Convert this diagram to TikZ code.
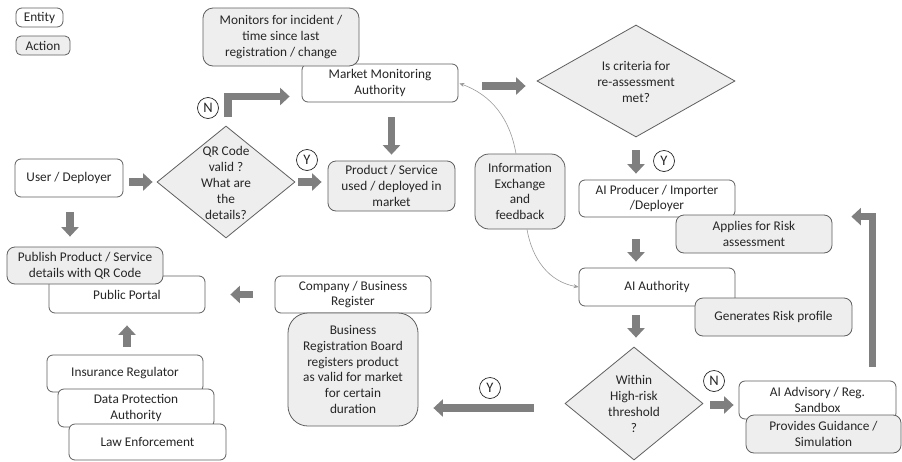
\documentclass[tikz,border=0pt]{standalone}
\usepackage{fontspec}
\setmainfont{Carlito}
\usetikzlibrary{shapes.geometric,arrows.meta}
\definecolor{edge}{HTML}{5F5F5F}
\definecolor{actfill}{HTML}{EDEEED}
\definecolor{blockgray}{HTML}{7F7F7F}
\definecolor{thinline}{HTML}{9A9A9A}
\definecolor{ink}{HTML}{262626}

\begin{document}
\begin{tikzpicture}[x=1pt,y=-1pt,
  boxbase/.style={draw=edge, line width=0.8pt, text=ink, align=center, inner sep=0pt,
                  font=\fontsize{13.3}{15.8}\selectfont},
  entity/.style={boxbase, rectangle, rounded corners=6pt, fill=white},
  action/.style={boxbase, rectangle, rounded corners=8pt, fill=actfill},
  decision/.style={boxbase, diamond, fill=actfill},
  plaintext/.style={text=ink, align=center, inner sep=0pt, font=\fontsize{13.3}{15.8}\selectfont},
  yntag/.style={draw=ink, circle, line width=0.7pt, minimum size=21pt, inner sep=0pt,
                text=ink, font=\fontsize{14.5}{14.5}\selectfont},
  blk/.style={draw=blockgray, line width=7.5pt, line join=miter,
              -{Triangle[length=9.5pt,width=17pt]}},
  feed/.style={draw=thinline, line width=0.6pt, -{Stealth[length=5pt,width=4pt]}}
]
% canvas
\fill[white] (0,0) rectangle (902,461);
\useasboundingbox (0,0) rectangle (902,461);

% legend
\node[entity, minimum width=47pt, minimum height=19pt] (legent) at (39.5,17.5) {Entity};
\node[action, rounded corners=5pt, minimum width=54pt, minimum height=19pt] (legact) at (43,45.5) {Action};

% market monitoring
\node[entity, minimum width=156pt, minimum height=38pt] (mma) at (380,83) {Market Monitoring\\Authority};
\node[action, rounded corners=10pt, minimum width=156pt, minimum height=58pt] (monitor) at (281,37)
  {Monitors for incident /\\time since last\\registration / change};

% user side
\node[entity, minimum width=108pt, minimum height=38pt] (user) at (69,178) {User / Deployer};
\node[decision, minimum width=138pt, minimum height=112pt] (qr) at (226,182) {};
\node[plaintext] (qrtext) at (226,183) {QR Code\\valid ?\\What are\\the\\details?};
\node[action, minimum width=127pt, minimum height=50pt] (prod) at (391.5,186)
  {Product / Service\\used / deployed in\\market};

% public portal
\node[entity, minimum width=156pt, minimum height=37pt] (portal) at (127,294.5) {Public Portal};
\node[action, minimum width=156pt, minimum height=37pt] (publish) at (85,265.5)
  {Publish Product / Service\\details with QR Code};
\node[entity, minimum width=156pt, minimum height=37pt] (insur) at (125,373.5) {Insurance Regulator};
\node[entity, minimum width=156pt, minimum height=38pt] (dpa) at (136,408) {Data Protection\\Authority};
\node[entity, minimum width=157pt, minimum height=36pt] (law) at (147.5,442) {Law Enforcement};

% business register
\node[entity, minimum width=156pt, minimum height=37pt] (company) at (353,294.5) {Company / Business\\Register};
\node[action, rounded corners=20pt, minimum width=130pt, minimum height=113pt] (brb) at (353,369.5)
  {Business\\Registration Board\\registers product\\as valid for market\\for certain\\duration};

% information exchange
\node[action, rounded corners=14pt, minimum width=90pt, minimum height=75pt] (info) at (520,191.5)
  {Information\\Exchange\\and\\feedback};

% AI assessment chain
\node[decision, minimum width=198pt, minimum height=112pt] (crit) at (636,81) {};
\node[plaintext] (crittext) at (636,82) {Is criteria for\\re-assessment\\met?};
\node[entity, minimum width=156pt, minimum height=37pt] (aip) at (657,198.5) {AI Producer / Importer\\/Deployer};
\node[action, minimum width=156pt, minimum height=38pt] (applies) at (754,234) {Applies for Risk\\assessment};
\node[entity, minimum width=156pt, minimum height=38pt] (aia) at (657,287) {AI Authority};
\node[action, minimum width=157pt, minimum height=38pt] (gen) at (773.5,317) {Generates Risk profile};
\node[decision, minimum width=138pt, minimum height=113pt] (high) at (634,403.5) {};
\node[plaintext] (hightext) at (634,404) {Within\\High-risk\\threshold\\?};
\node[entity, minimum width=157pt, minimum height=38pt] (adv) at (817.5,400) {AI Advisory / Reg.\\Sandbox};
\node[action, minimum width=155pt, minimum height=38pt] (prov) at (823.5,434) {Provides Guidance /\\Simulation};

% Y / N tags
\node[yntag] (tagqrn) at (208,108) {N};
\node[yntag] (tagqry) at (307,160) {Y};
\node[yntag] (tagcrity) at (664,161) {Y};
\node[yntag] (taghighy) at (490,388) {Y};
\node[yntag] (taghighn) at (714,381) {N};

% block arrows
\draw[blk, shorten <=6pt, shorten >=4pt] (user.east |- qr.west) -- (qr.west);
\draw[blk, shorten <=3pt, shorten >=6pt] (qr.east) -- (qr.east -| prod.west);
\draw[blk, shorten <=15pt, shorten >=6pt] (prod.north |- mma.south) -- (prod.north);
\draw[blk, shorten <=9pt, shorten >=12pt] ([xshift=2pt]qr.north) |- ([yshift=-13.5pt]mma.west);
\draw[blk, shorten <=15pt, shorten >=10pt] ([xshift=1pt]user.south) -- ([xshift=1pt]user.south |- publish.north);
\draw[blk, shorten <=22pt, shorten >=25pt] (company.west) -- (portal.east);
\draw[blk, shorten <=8pt, shorten >=12pt] ([xshift=2pt]insur.north) -- ([xshift=2pt]insur.north |- portal.south);
\draw[blk, shorten <=31pt, shorten >=15pt] ([yshift=-4.5pt]high.west) -- ([yshift=-4.5pt]high.west -| brb.east);
\draw[blk, shorten <=24pt, shorten >=11pt] ([yshift=-3pt]mma.east) -- ([yshift=-3pt]mma.east -| crit.west);
\draw[blk, shorten <=13pt, shorten >=6pt] (crit.south) -- (crit.south |- aip.north);
\draw[blk, shorten <=22pt, shorten >=6pt] (crit.south |- aip.south) -- (crit.south |- aia.north);
\draw[blk, shorten <=9pt, shorten >=9pt] ([xshift=2pt]high.north |- aia.south) -- ([xshift=2pt]high.north);
\draw[blk, shorten <=7pt, shorten >=5pt] ([yshift=-1.5pt]high.east) -- ([yshift=-1.5pt]high.east -| adv.west);
\draw[blk] ([xshift=-24pt,yshift=14pt]adv.north east) |- ([xshift=19pt,yshift=-2pt]applies.north east);

% information exchange links
\draw[feed, shorten >=1pt] ([xshift=-4pt]info.north) to[out=100,in=-20] (mma.east);
\draw[feed] ([xshift=7pt]info.south) to[out=-80,in=170] (aia.west);
\end{tikzpicture}
\end{document}
